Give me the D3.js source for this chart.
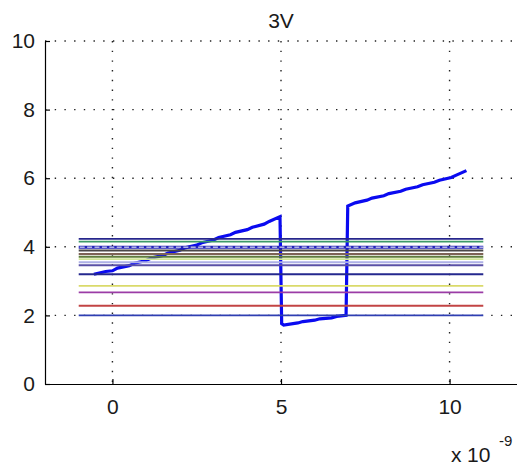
<!DOCTYPE html>
<html>
<head>
<meta charset="utf-8">
<script src="https://cdn.jsdelivr.net/npm/d3@7/dist/d3.min.js"></script>
<style>
  html, body { margin: 0; padding: 0; background: #fff; }
  svg { display: block; }
  text { font-family: "Liberation Sans", Arial, sans-serif; }
</style>
</head>
<body>
<svg id="chart" width="517" height="465"></svg>
<script>
// ---- data ----
const titleText = "3V";
const xTicks = [0, 5, 10];
const yTicks = [0, 2, 4, 6, 8, 10];
const xDomain = [-2, 12];
const yDomain = [0, 10];

// horizontal reference levels (drawn from x=-1 to x=11)
const levelStart = -1;
const levelEnd = 11;
const levelValues = [4.23, 4.15, 3.99, 3.89, 3.79, 3.71, 3.64, 3.55, 3.46, 3.20, 2.86, 2.67, 2.28, 2.00];
const levelColors = ["#26268c", "#3d9a68", "#2323b8", "#4a4848", "#7d6356", "#5f7d3c", "#cfe696", "#aeb0e6", "#5a50a6", "#25288e", "#dada6a", "#9b3ca6", "#c24444", "#2f3fb2"];
const dashedLevelIndex = 2;

// thick blue signal
const signalX = [-0.55, -0.2, 0.0, 0.15, 0.5, 0.65, 1.0, 1.15, 1.5, 1.65, 2.0, 2.15, 2.5, 2.65, 3.0, 3.15, 3.5, 3.65, 4.0, 4.15, 4.5, 4.65, 4.97,
                 5.02, 5.08, 5.5, 5.65, 6.0, 6.15, 6.5, 6.65, 6.93,
                 6.98, 7.2, 7.55, 7.7, 8.05, 8.2, 8.55, 8.7, 9.05, 9.2, 9.55, 9.7, 10.05, 10.2, 10.5];
const signalY = [3.20, 3.28, 3.30, 3.38, 3.45, 3.52, 3.60, 3.67, 3.75, 3.82, 3.90, 3.97, 4.05, 4.12, 4.20, 4.27, 4.35, 4.42, 4.50, 4.57, 4.66, 4.74, 4.88,
                 1.76, 1.72, 1.78, 1.82, 1.86, 1.90, 1.93, 1.97, 2.00,
                 5.19, 5.28, 5.36, 5.42, 5.49, 5.55, 5.62, 5.68, 5.75, 5.81, 5.88, 5.94, 6.02, 6.09, 6.22];

// ---- drawing ----
const svg = d3.select("#chart");
svg.append("rect").attr("width", 517).attr("height", 465).attr("fill", "#fff");

const x = d3.scaleLinear().domain(xDomain).range([45, 517]);
const y = d3.scaleLinear().domain(yDomain).range([384, 41]);

// grid
const grid = svg.append("g").attr("stroke", "#222").attr("stroke-width", 1.4)
  .attr("stroke-dasharray", "1.4,8.3").attr("fill", "none");
grid.selectAll("line.gx").data(xTicks).join("line")
  .attr("x1", d => x(d)).attr("x2", d => x(d))
  .attr("y1", y(yDomain[1])).attr("y2", y(yDomain[0]));
grid.selectAll("line.gy").data(yTicks.filter(d => d > 0)).join("line")
  .attr("x1", x(xDomain[0])).attr("x2", x(xDomain[1]))
  .attr("y1", d => y(d)).attr("y2", d => y(d));

// signal
const signal = signalX.map((v, i) => [v, signalY[i]]);
svg.append("path").datum(signal)
  .attr("fill", "none").attr("stroke", "#0a0af0").attr("stroke-width", 3.2)
  .attr("stroke-linejoin", "miter")
  .attr("d", d3.line().x(d => x(d[0])).y(d => y(d[1])));

// levels
const lv = svg.append("g");
levelValues.forEach((v, i) => {
  lv.append("line")
    .attr("x1", x(levelStart)).attr("x2", x(levelEnd))
    .attr("y1", y(v)).attr("y2", y(v))
    .attr("stroke", levelColors[i])
    .attr("stroke-width", i === dashedLevelIndex ? 3 : 1.9);
  if (i === dashedLevelIndex) {
    lv.append("line")
      .attr("x1", x(levelStart) + 1).attr("x2", x(levelEnd))
      .attr("y1", y(v)).attr("y2", y(v))
      .attr("stroke", "#fff").attr("stroke-width", 1)
      .attr("stroke-dasharray", "5,2.4");
  }
});

// axes
const axisFont = 21;
const yAxis = svg.append("g").attr("transform", `translate(${x(xDomain[0])},0)`)
  .call(d3.axisLeft(y).tickValues(yTicks).tickSizeInner(-5).tickSizeOuter(0).tickPadding(10).tickFormat(d3.format("d")));
const xAxis = svg.append("g").attr("transform", `translate(0,${y(yDomain[0])})`)
  .call(d3.axisBottom(x).tickValues(xTicks).tickSizeInner(-5).tickSizeOuter(0).tickPadding(15).tickFormat(d3.format("d")));
[yAxis, xAxis].forEach(a => {
  a.select(".domain").attr("stroke", "#000").attr("stroke-width", 1.2);
  a.selectAll(".tick line").attr("stroke", "#000").attr("stroke-width", 1.2);
  a.selectAll(".tick text").attr("font-size", axisFont).attr("fill", "#1a1a1a")
    .attr("font-family", "'Liberation Sans', Arial, sans-serif");
});

// title
svg.append("text").attr("x", 281).attr("y", 28).attr("text-anchor", "middle")
  .attr("font-size", axisFont).attr("fill", "#1a1a1a").text(titleText);

// exponent label
const ex = svg.append("text").attr("y", 462).attr("font-size", axisFont).attr("fill", "#1a1a1a");
ex.append("tspan").attr("x", 451).text("x");
ex.append("tspan").attr("x", 467).text("10");
ex.append("tspan").attr("x", 499).attr("y", 446).attr("font-size", 15).text("-9");
</script>
</body>
</html>
